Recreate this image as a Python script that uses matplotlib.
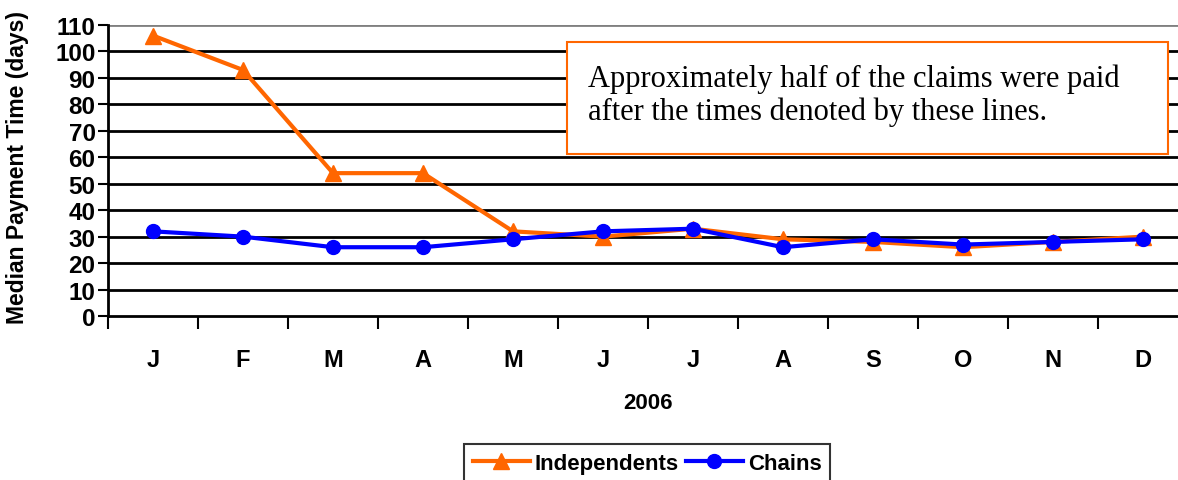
import numpy as np
import matplotlib
matplotlib.use("Agg")
import matplotlib.pyplot as plt
from matplotlib.patches import Rectangle

months = ["J", "F", "M", "A", "M", "J", "J", "A", "S", "O", "N", "D"]
independents = [106, 93, 54, 54, 32, 30, 33, 29, 28, 26, 28, 30]
chains = [32, 30, 26, 26, 29, 32, 33, 26, 29, 27, 28, 29]
yticks = list(range(0, 111, 10))

plt.rcParams['font.family'] = ['Liberation Sans', 'DejaVu Sans']

W, H = 1178, 481
fig = plt.figure(figsize=(W / 100, H / 100), dpi=100)
ax = fig.add_axes([108 / W, 1 - 317 / H, 1080 / W, 291 / H])

x = np.arange(len(months))
l1, = ax.plot(x, independents, color="#FF6600", lw=3, marker="^", ms=11,
              label="Independents", clip_on=False, zorder=3)
l2, = ax.plot(x, chains, color="#0000FF", lw=3, marker="o", ms=10,
              label="Chains", clip_on=False, zorder=4)

ax.set_xlim(-0.5, 11.5)
ax.set_ylim(0, 110)
ax.set_yticks(yticks)
for v in yticks[1:]:
    ax.axhline(v, color="#808080" if v == 110 else "black", lw=2, zorder=1)

for s in ["top", "right"]:
    ax.spines[s].set_visible(False)
ax.spines["left"].set_linewidth(2)
ax.spines["bottom"].set_linewidth(2)

ax.set_xticks(x)
ax.set_xticklabels(months, fontsize=17, fontweight="bold")
ax.set_xticks(np.arange(-0.5, 12, 1), minor=True)
ax.tick_params(axis="x", which="major", length=0, pad=23)
ax.tick_params(axis="x", which="minor", length=9, width=1.5, direction="out")
ax.tick_params(axis="y", length=7, width=1.5, direction="out", labelsize=17.5, pad=2)
for t in ax.get_yticklabels():
    t.set_fontweight("bold")

ax.set_xlabel("2006", fontsize=16, fontweight="bold", labelpad=15)
fig.text(18 / W, 1 - 168 / H, "Median Payment Time (days)", rotation=90,
         ha="center", va="center", fontsize=16.5, fontweight="bold")

# annotation box
fig.patches.append(Rectangle((567 / W, 1 - 155 / H), (1168 - 567) / W, 112 / H,
                             transform=fig.transFigure, facecolor="white",
                             edgecolor="#FF6600", lw=1.5, zorder=5))
fig.text(588 / W, 1 - 96 / H,
         "Approximately half of the claims were paid\nafter the times denoted by these lines.",
         fontsize=22, family=["Liberation Serif", "DejaVu Serif"], va="center",
         linespacing=1.15, zorder=6)

leg = fig.legend(handles=[l1, l2], loc="upper center",
                 bbox_to_anchor=(647 / W, 1 - 445 / H), ncol=2,
                 prop={"weight": "bold", "size": 16}, frameon=True,
                 fancybox=False, edgecolor="black", handlelength=2.6,
                 columnspacing=0.3, handletextpad=0.2, borderaxespad=0)
leg.get_frame().set_linewidth(1.5)

fig.savefig("out.png", dpi=100)
